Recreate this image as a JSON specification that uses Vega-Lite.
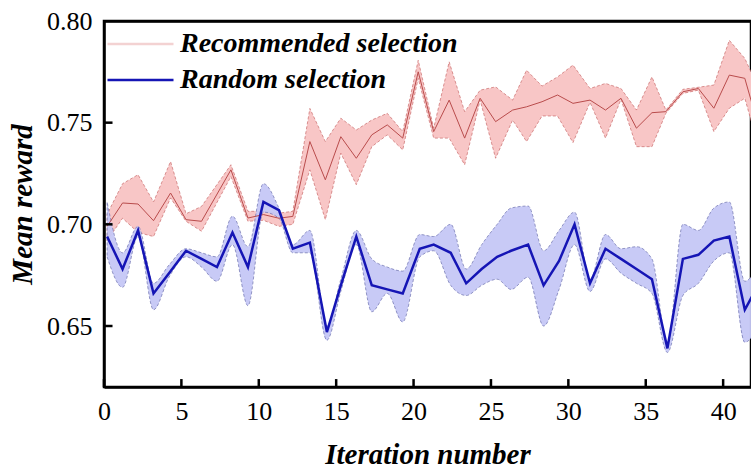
{
  "$schema": "https://vega.github.io/schema/vega-lite/v6.json",
  "width": 647,
  "height": 366,
  "autosize": {"type": "none"},
  "padding": {"left": 104, "top": 21, "right": 0, "bottom": 83},
  "background": "white",
  "config": {"view": {"stroke": "black", "strokeWidth": 2.5}, "font": "Liberation Serif"},
  "data": {"values": [
      {"kind": "tick", "id": "x0", "tx": 0, "ty": 0.62}, {"kind": "tick", "id": "x0", "tx": 0, "ty": 0.6239},
      {"kind": "tick", "id": "x5", "tx": 5, "ty": 0.62}, {"kind": "tick", "id": "x5", "tx": 5, "ty": 0.6239},
      {"kind": "tick", "id": "x10", "tx": 10, "ty": 0.62}, {"kind": "tick", "id": "x10", "tx": 10, "ty": 0.6239},
      {"kind": "tick", "id": "x15", "tx": 15, "ty": 0.62}, {"kind": "tick", "id": "x15", "tx": 15, "ty": 0.6239},
      {"kind": "tick", "id": "x20", "tx": 20, "ty": 0.62}, {"kind": "tick", "id": "x20", "tx": 20, "ty": 0.6239},
      {"kind": "tick", "id": "x25", "tx": 25, "ty": 0.62}, {"kind": "tick", "id": "x25", "tx": 25, "ty": 0.6239},
      {"kind": "tick", "id": "x30", "tx": 30, "ty": 0.62}, {"kind": "tick", "id": "x30", "tx": 30, "ty": 0.6239},
      {"kind": "tick", "id": "x35", "tx": 35, "ty": 0.62}, {"kind": "tick", "id": "x35", "tx": 35, "ty": 0.6239},
      {"kind": "tick", "id": "x40", "tx": 40, "ty": 0.62}, {"kind": "tick", "id": "x40", "tx": 40, "ty": 0.6239},
      {"kind": "tick", "id": "y65", "tx": 0, "ty": 0.65}, {"kind": "tick", "id": "y65", "tx": 0.55, "ty": 0.65},
      {"kind": "tick", "id": "y70", "tx": 0, "ty": 0.70}, {"kind": "tick", "id": "y70", "tx": 0.55, "ty": 0.70},
      {"kind": "tick", "id": "y75", "tx": 0, "ty": 0.75}, {"kind": "tick", "id": "y75", "tx": 0.55, "ty": 0.75},
      {"kind": "tick", "id": "top", "tx": 0, "ty": 0.7997}, {"kind": "tick", "id": "top", "tx": 43, "ty": 0.7997},
      {"x": 0.2, "series": "Recommended selection", "mean": 0.699, "lo": 0.692, "hi": 0.705},
      {"x": 1.2, "series": "Recommended selection", "mean": 0.7105, "lo": 0.703, "hi": 0.720},
      {"x": 2.2, "series": "Recommended selection", "mean": 0.710, "lo": 0.696, "hi": 0.7244},
      {"x": 3.2, "series": "Recommended selection", "mean": 0.7018, "lo": 0.694, "hi": 0.711},
      {"x": 4.3, "series": "Recommended selection", "mean": 0.7154, "lo": 0.713, "hi": 0.7309},
      {"x": 5.3, "series": "Recommended selection", "mean": 0.7023, "lo": 0.7015, "hi": 0.7052},
      {"x": 6.3, "series": "Recommended selection", "mean": 0.7015, "lo": 0.6966, "hi": 0.7088},
      {"x": 8.2, "series": "Recommended selection", "mean": 0.7268, "lo": 0.7235, "hi": 0.7293},
      {"x": 9.3, "series": "Recommended selection", "mean": 0.7031, "lo": 0.7015, "hi": 0.7064},
      {"x": 10.3, "series": "Recommended selection", "mean": 0.7048, "lo": 0.702, "hi": 0.7064},
      {"x": 11.3, "series": "Recommended selection", "mean": 0.703, "lo": 0.699, "hi": 0.7055},
      {"x": 12.2, "series": "Recommended selection", "mean": 0.7039, "lo": 0.700, "hi": 0.7064},
      {"x": 13.3, "series": "Recommended selection", "mean": 0.7407, "lo": 0.7268, "hi": 0.757},
      {"x": 14.3, "series": "Recommended selection", "mean": 0.7219, "lo": 0.7023, "hi": 0.7407},
      {"x": 15.3, "series": "Recommended selection", "mean": 0.7431, "lo": 0.735, "hi": 0.7522},
      {"x": 16.3, "series": "Recommended selection", "mean": 0.7325, "lo": 0.7195, "hi": 0.7464},
      {"x": 17.3, "series": "Recommended selection", "mean": 0.744, "lo": 0.7382, "hi": 0.7513},
      {"x": 18.3, "series": "Recommended selection", "mean": 0.7489, "lo": 0.744, "hi": 0.7546},
      {"x": 19.3, "series": "Recommended selection", "mean": 0.7424, "lo": 0.7366, "hi": 0.7456},
      {"x": 20.3, "series": "Recommended selection", "mean": 0.775, "lo": 0.7718, "hi": 0.7807},
      {"x": 21.3, "series": "Recommended selection", "mean": 0.7456, "lo": 0.7424, "hi": 0.7473},
      {"x": 22.3, "series": "Recommended selection", "mean": 0.7611, "lo": 0.7424, "hi": 0.7799},
      {"x": 23.3, "series": "Recommended selection", "mean": 0.7424, "lo": 0.7293, "hi": 0.7554},
      {"x": 24.3, "series": "Recommended selection", "mean": 0.762, "lo": 0.7611, "hi": 0.766},
      {"x": 25.3, "series": "Recommended selection", "mean": 0.7505, "lo": 0.7325, "hi": 0.7676},
      {"x": 26.4, "series": "Recommended selection", "mean": 0.7562, "lo": 0.7513, "hi": 0.7611},
      {"x": 27.3, "series": "Recommended selection", "mean": 0.7578, "lo": 0.7407, "hi": 0.7758},
      {"x": 28.3, "series": "Recommended selection", "mean": 0.7603, "lo": 0.7533, "hi": 0.768},
      {"x": 29.3, "series": "Recommended selection", "mean": 0.7636, "lo": 0.7533, "hi": 0.7725},
      {"x": 30.3, "series": "Recommended selection", "mean": 0.7595, "lo": 0.7402, "hi": 0.7783},
      {"x": 31.4, "series": "Recommended selection", "mean": 0.7611, "lo": 0.760, "hi": 0.7668},
      {"x": 32.4, "series": "Recommended selection", "mean": 0.7562, "lo": 0.7424, "hi": 0.7693},
      {"x": 33.4, "series": "Recommended selection", "mean": 0.762, "lo": 0.7615, "hi": 0.7668},
      {"x": 34.4, "series": "Recommended selection", "mean": 0.7473, "lo": 0.7382, "hi": 0.7562},
      {"x": 35.4, "series": "Recommended selection", "mean": 0.7549, "lo": 0.7382, "hi": 0.7725},
      {"x": 36.3, "series": "Recommended selection", "mean": 0.7554, "lo": 0.7546, "hi": 0.7562},
      {"x": 37.4, "series": "Recommended selection", "mean": 0.7652, "lo": 0.7644, "hi": 0.7664},
      {"x": 38.4, "series": "Recommended selection", "mean": 0.7668, "lo": 0.766, "hi": 0.7674},
      {"x": 39.4, "series": "Recommended selection", "mean": 0.7571, "lo": 0.7456, "hi": 0.7685},
      {"x": 40.4, "series": "Recommended selection", "mean": 0.7734, "lo": 0.7571, "hi": 0.7905},
      {"x": 41.4, "series": "Recommended selection", "mean": 0.7718, "lo": 0.762, "hi": 0.7816},
      {"x": 42.4, "series": "Recommended selection", "mean": 0.745, "lo": 0.735, "hi": 0.765},
      {"x": 0.2, "series": "Random selection", "mean": 0.694, "lo": 0.684, "hi": 0.711},
      {"x": 1.2, "series": "Random selection", "mean": 0.678, "lo": 0.669, "hi": 0.686},
      {"x": 2.2, "series": "Random selection", "mean": 0.697, "lo": 0.694, "hi": 0.699},
      {"x": 3.2, "series": "Random selection", "mean": 0.666, "lo": 0.658, "hi": 0.671},
      {"x": 4.2, "series": "Random selection", "mean": 0.676, "lo": 0.674, "hi": 0.680},
      {"x": 5.3, "series": "Random selection", "mean": 0.687, "lo": 0.684, "hi": 0.688},
      {"x": 6.3, "series": "Random selection", "mean": 0.683, "lo": 0.679, "hi": 0.686},
      {"x": 7.3, "series": "Random selection", "mean": 0.679, "lo": 0.672, "hi": 0.684},
      {"x": 8.3, "series": "Random selection", "mean": 0.696, "lo": 0.690, "hi": 0.704},
      {"x": 9.3, "series": "Random selection", "mean": 0.679, "lo": 0.660, "hi": 0.689},
      {"x": 10.3, "series": "Random selection", "mean": 0.711, "lo": 0.706, "hi": 0.720},
      {"x": 11.3, "series": "Random selection", "mean": 0.707, "lo": 0.703, "hi": 0.708},
      {"x": 12.2, "series": "Random selection", "mean": 0.688, "lo": 0.686, "hi": 0.690},
      {"x": 13.3, "series": "Random selection", "mean": 0.691, "lo": 0.686, "hi": 0.697},
      {"x": 14.4, "series": "Random selection", "mean": 0.647, "lo": 0.643, "hi": 0.650},
      {"x": 15.3, "series": "Random selection", "mean": 0.670, "lo": 0.667, "hi": 0.673},
      {"x": 16.3, "series": "Random selection", "mean": 0.694, "lo": 0.690, "hi": 0.697},
      {"x": 17.3, "series": "Random selection", "mean": 0.670, "lo": 0.657, "hi": 0.683},
      {"x": 18.3, "series": "Random selection", "mean": 0.668, "lo": 0.666, "hi": 0.679},
      {"x": 19.3, "series": "Random selection", "mean": 0.666, "lo": 0.652, "hi": 0.677},
      {"x": 20.4, "series": "Random selection", "mean": 0.688, "lo": 0.684, "hi": 0.695},
      {"x": 21.3, "series": "Random selection", "mean": 0.690, "lo": 0.687, "hi": 0.694},
      {"x": 22.4, "series": "Random selection", "mean": 0.686, "lo": 0.670, "hi": 0.700},
      {"x": 23.4, "series": "Random selection", "mean": 0.671, "lo": 0.665, "hi": 0.678},
      {"x": 24.4, "series": "Random selection", "mean": 0.678, "lo": 0.670, "hi": 0.690},
      {"x": 25.4, "series": "Random selection", "mean": 0.684, "lo": 0.673, "hi": 0.700},
      {"x": 26.3, "series": "Random selection", "mean": 0.687, "lo": 0.668, "hi": 0.708},
      {"x": 27.4, "series": "Random selection", "mean": 0.690, "lo": 0.674, "hi": 0.709},
      {"x": 28.4, "series": "Random selection", "mean": 0.670, "lo": 0.650, "hi": 0.687},
      {"x": 29.4, "series": "Random selection", "mean": 0.682, "lo": 0.668, "hi": 0.697},
      {"x": 30.4, "series": "Random selection", "mean": 0.700, "lo": 0.690, "hi": 0.706},
      {"x": 31.4, "series": "Random selection", "mean": 0.671, "lo": 0.667, "hi": 0.673},
      {"x": 32.4, "series": "Random selection", "mean": 0.688, "lo": 0.683, "hi": 0.695},
      {"x": 33.4, "series": "Random selection", "mean": 0.683, "lo": 0.676, "hi": 0.688},
      {"x": 34.4, "series": "Random selection", "mean": 0.678, "lo": 0.671, "hi": 0.689},
      {"x": 35.4, "series": "Random selection", "mean": 0.673, "lo": 0.666, "hi": 0.683},
      {"x": 36.4, "series": "Random selection", "mean": 0.639, "lo": 0.637, "hi": 0.641},
      {"x": 37.4, "series": "Random selection", "mean": 0.683, "lo": 0.665, "hi": 0.700},
      {"x": 38.4, "series": "Random selection", "mean": 0.685, "lo": 0.671, "hi": 0.697},
      {"x": 39.4, "series": "Random selection", "mean": 0.692, "lo": 0.682, "hi": 0.708},
      {"x": 40.4, "series": "Random selection", "mean": 0.694, "lo": 0.686, "hi": 0.711},
      {"x": 41.4, "series": "Random selection", "mean": 0.658, "lo": 0.642, "hi": 0.672},
      {"x": 42.4, "series": "Random selection", "mean": 0.672, "lo": 0.652, "hi": 0.682}
  ]},
  "layer": [
    {
      "transform": [{"filter": "datum.series === 'Recommended selection'"}],
      "mark": {"type": "area", "fill": "#f8c6c6", "stroke": "#c96a6a", "strokeWidth": 0.7, "strokeDash": [3, 2], "clip": true},
      "encoding": {
        "x": {
          "field": "x",
          "type": "quantitative",
          "scale": {"domain": [0, 41.8], "nice": false, "zero": false},
          "axis": {
            "title": "Iteration number",
            "values": [0, 5, 10, 15, 20, 25, 30, 35, 40],
            "grid": false,
            "ticks": true,
            "tickSize": -8,
            "tickWidth": 2.5,
            "tickColor": "black",
            "tickOpacity": 0,
            "domainColor": "black",
            "domainWidth": 2.5,
            "labelFont": "Liberation Serif",
            "labelFontSize": 26,
            "labelColor": "black",
            "labelPadding": 19,
            "labelFlush": false,
            "titleFont": "Liberation Serif",
            "titleFontSize": 29,
            "titleFontStyle": "italic",
            "titleFontWeight": "bold",
            "titleColor": "black",
            "titlePadding": 16,
            "zindex": 2
          }
        },
        "y": {
          "field": "lo",
          "type": "quantitative",
          "scale": {"domain": [0.62, 0.8], "nice": false, "zero": false},
          "axis": {
            "title": "Mean reward",
            "values": [0.65, 0.7, 0.75, 0.8],
            "format": ".2f",
            "grid": false,
            "ticks": true,
            "tickSize": -8,
            "tickWidth": 2.5,
            "tickColor": "black",
            "tickOpacity": 0,
            "domainColor": "black",
            "domainWidth": 2.5,
            "labelFont": "Liberation Serif",
            "labelFontSize": 26,
            "labelColor": "black",
            "labelPadding": 20,
            "labelFlush": false,
            "titleFont": "Liberation Serif",
            "titleFontSize": 29,
            "titleFontStyle": "italic",
            "titleFontWeight": "bold",
            "titleColor": "black",
            "titlePadding": 9,
            "zindex": 2
          }
        },
        "y2": {"field": "hi"}
      }
    },
    {
      "transform": [{"filter": "datum.series === 'Random selection'"}],
      "mark": {"type": "area", "interpolate": "monotone", "fill": "#c5c7f5", "fillOpacity": 0.95, "stroke": "#6c70ad", "strokeWidth": 0.7, "strokeDash": [3, 2], "clip": true},
      "encoding": {
        "x": {"field": "x", "type": "quantitative"},
        "y": {"field": "lo", "type": "quantitative"},
        "y2": {"field": "hi"}
      }
    },
    {
      "transform": [{"filter": "isValid(datum.series)"}],
      "mark": {"type": "line", "clip": true},
      "encoding": {
        "x": {"field": "x", "type": "quantitative"},
        "y": {"field": "mean", "type": "quantitative"},
        "color": {
          "condition": {"test": "datum.series === 'Recommended selection'", "value": "#b94c4c"},
          "field": "series",
          "type": "nominal",
          "scale": {"domain": ["Recommended selection", "Random selection"], "range": ["#f3d2d2", "#1515b5"]},
          "legend": {
            "title": null,
            "orient": "none",
            "legendX": 2,
            "legendY": 8,
            "symbolType": "stroke",
            "symbolSize": 4356,
            "symbolStrokeWidth": 2.5,
            "labelFont": "Liberation Serif",
            "labelFontSize": 28,
            "labelFontStyle": "italic",
            "labelFontWeight": "bold",
            "labelColor": "black",
            "labelOffset": 5,
            "clipHeight": 30,
            "rowPadding": 6,
            "labelLimit": 450
          }
        },
        "strokeWidth": {
          "condition": {"test": "datum.series === 'Recommended selection'", "value": 1},
          "value": 2.5
        }
      }
    },
    {
      "transform": [{"filter": "datum.kind === 'tick'"}],
      "mark": {"type": "line", "color": "#000000", "strokeWidth": 2.5},
      "encoding": {
        "x": {"field": "tx", "type": "quantitative", "title": "Iteration number"},
        "y": {"field": "ty", "type": "quantitative", "title": "Mean reward"},
        "detail": {"field": "id", "type": "nominal"}
      }
    }
  ]
}
